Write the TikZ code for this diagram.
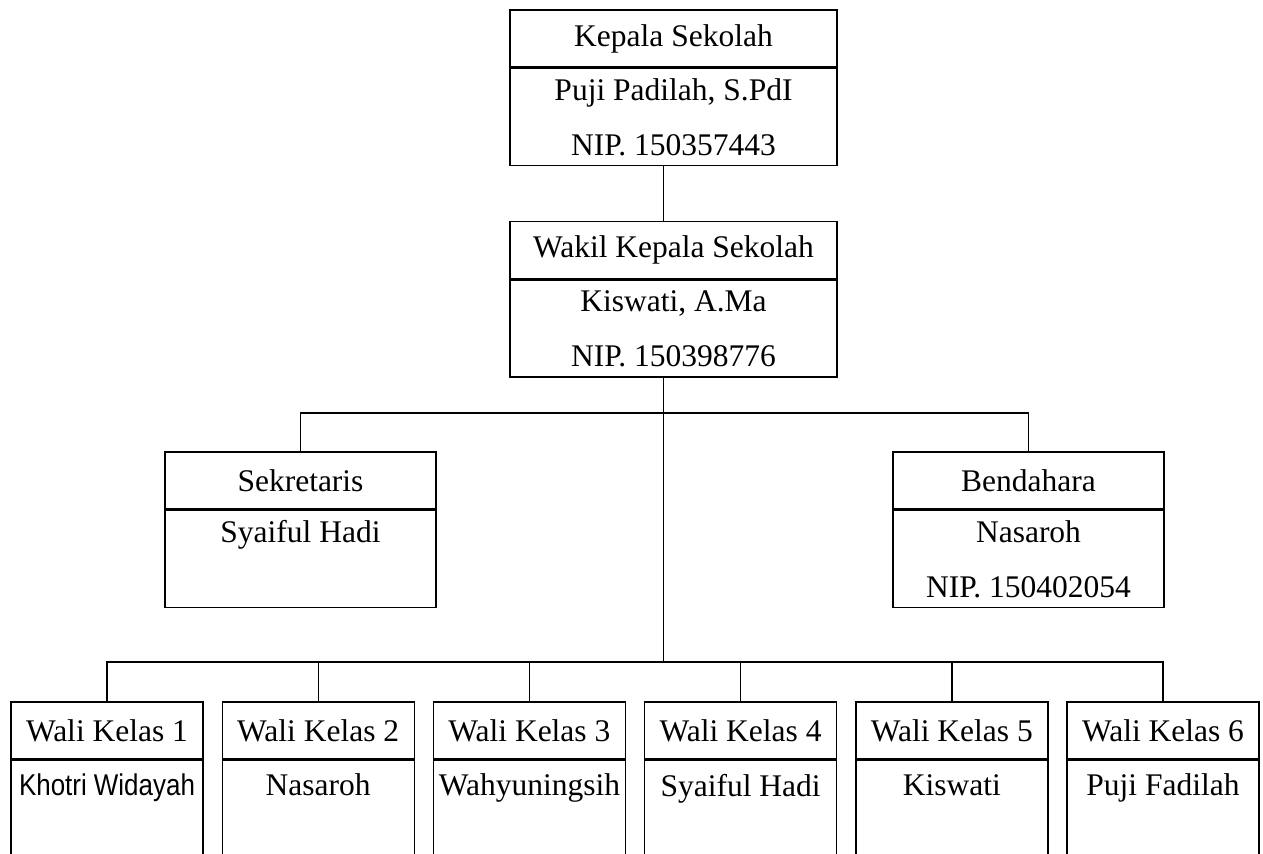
\documentclass[tikz,border=0pt]{standalone}
\usepackage{fontspec}
\usepackage{graphicx}
\setmainfont{Liberation Serif}
\newfontfamily\arialfont{Liberation Sans}
\usetikzlibrary{positioning}

\begin{document}
\begin{tikzpicture}[x=0.5pt, y=0.5pt, line width=0.7pt,
    head/.style={draw, minimum height=28.5pt, inner sep=0pt, align=center,
      font=\fontsize{15.75}{27.5}\selectfont},
    body/.style={head, minimum height=48.5pt},
    wide/.style={minimum width=163.5pt},
    mid/.style={minimum width=135.5pt},
    narrow/.style={minimum width=96pt},
  ]
  \useasboundingbox (0,0) rectangle (1263,-853);

  % pimpinan
  \node[head, wide] (kepala) at (673.5,-38.5) {Kepala Sekolah};
  \node[body, wide, below=0pt of kepala] (kepalaB) {Puji Padilah, S.PdI\\NIP. 150357443};
  \node[head, wide] (wakil) at (673.5,-250) {Wakil Kepala Sekolah};
  \node[body, wide, below=0pt of wakil] (wakilB) {Kiswati, A.Ma\\NIP. 150398776};

  % staf
  \node[head, mid] (sekr) at (300.5,-480.5) {Sekretaris};
  \node[body, mid, below=0pt of sekr] (sekrB) {Syaiful Hadi\\\mbox{}};
  \node[head, mid] (bend) at (1028.5,-480.5) {Bendahara};
  \node[body, mid, below=0pt of bend] (bendB) {Nasaroh\\NIP. 150402054};

  % wali kelas
  \foreach \i/\nm in {1/{{\arialfont\fontsize{15}{27.5}\selectfont\scalebox{0.865}[1]{Khotri Widayah}}},
                      2/Nasaroh, 3/Wahyuningsih, 4/Syaiful Hadi, 5/Kiswati, 6/Puji Fadilah} {
    \node[head, narrow] (wali\i) at ({107+211.2*(\i-1)},-730.5) {Wali Kelas \i};
    \node[body, narrow, minimum height=52pt, below=0pt of wali\i] (wali\i B) {\nm\\\mbox{}};
  }

  % garis
  \coordinate (busA) at (663.5,-413);
  \coordinate (busB) at (663.5,-662);
  \draw (kepalaB.south -| busA) -- (wakil.north -| busA);
  \draw (wakilB.south -| busA) -- (busB);
  \draw (sekr.north) |- (busA) -| (bend.north);
  \foreach \i in {1,...,6}
    \draw (busB) -| (wali\i.north);
\end{tikzpicture}
\end{document}
